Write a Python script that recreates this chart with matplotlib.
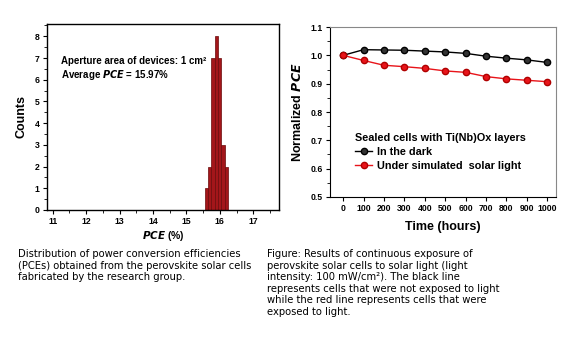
import numpy as np
import matplotlib.pyplot as plt

plt.rcParams['font.family'] = ['Liberation Sans', 'DejaVu Sans']

# histogram data
pce_centers = [15.6, 15.7, 15.8, 15.9, 16.0, 16.1, 16.2]
counts = [1, 2, 7, 8, 7, 3, 2]

# stability data
hours = [0, 100, 200, 300, 400, 500, 600, 700, 800, 900, 1000]
dark = [1.000, 1.020, 1.019, 1.018, 1.015, 1.012, 1.007, 0.997, 0.990, 0.984, 0.975]
light = [1.000, 0.982, 0.965, 0.960, 0.954, 0.945, 0.940, 0.925, 0.917, 0.912, 0.907]

fig = plt.figure(figsize=(5.77, 3.42), dpi=100)

# left panel
ax1 = fig.add_axes([0.081, 0.386, 0.403, 0.544])
ax1.bar(pce_centers, counts, width=0.1, color='#a3161a', edgecolor='#6a0a0a', linewidth=0.5)
ax1.set_xlim(10.82, 17.78)
ax1.set_ylim(0, 8.57)
ax1.set_xticks(range(11, 18))
ax1.set_xticks(np.arange(11.5, 17.6, 1), minor=True)
ax1.set_yticks(range(0, 9))
ax1.set_yticks(np.arange(0.5, 8.6, 1), minor=True)
ax1.tick_params(labelsize=6.2, width=0.8, length=3, pad=2)
ax1.tick_params(which='minor', length=2, width=0.6)
for lab in ax1.get_xticklabels() + ax1.get_yticklabels():
    lab.set_fontweight('bold')
ax1.set_ylabel('Counts', fontsize=9, fontweight='bold', labelpad=5)
ax1.set_xlabel('$\\mathbfit{PCE}$ (%)', fontsize=7.5, fontweight='bold', labelpad=2)
ax1.text(0.06, 0.80, 'Aperture area of devices: 1 cm\u00b2', transform=ax1.transAxes,
         fontsize=7, fontweight='bold', va='center')
ax1.text(0.06, 0.725, 'Average $\\mathbfit{PCE}$ = 15.97%', transform=ax1.transAxes,
         fontsize=7, fontweight='bold', va='center')
for sp in ax1.spines.values():
    sp.set_linewidth(1.0)

# right panel
ax2 = fig.add_axes([0.572, 0.424, 0.392, 0.497])
ax2.plot(hours, dark, '-o', color='black', markersize=4.5, markerfacecolor='#333333',
         markeredgecolor='black', linewidth=1.0, label='In the dark')
ax2.plot(hours, light, '-o', color='#e8141a', markersize=4.5, markerfacecolor='#e8141a',
         markeredgecolor='#b00000', linewidth=1.0, label='Under simulated  solar light')
ax2.set_xlim(-64, 1044)
ax2.set_ylim(0.5, 1.1)
ax2.set_xticks(hours)
ax2.set_yticks(np.arange(0.5, 1.11, 0.1))
ax2.set_yticks(np.arange(0.55, 1.1, 0.1), minor=True)
ax2.tick_params(labelsize=6.2, width=0.8, length=3, pad=2)
ax2.tick_params(which='minor', length=2, width=0.6)
for lab in ax2.get_xticklabels() + ax2.get_yticklabels():
    lab.set_fontweight('bold')
ax2.set_ylabel('Normalized $\\mathbfit{PCE}$', fontsize=9, fontweight='bold', labelpad=5)
ax2.set_xlabel('Time (hours)', fontsize=9, fontweight='bold', labelpad=6)
ax2.spines['top'].set_color('#888888')
ax2.spines['right'].set_color('#888888')
leg = ax2.legend(loc='lower left', bbox_to_anchor=(0.11, 0.155), frameon=False,
                 title='Sealed cells with Ti(Nb)Ox layers', fontsize=7.8,
                 title_fontproperties={'weight': 'bold', 'size': 7.8},
                 handlelength=1.6, handletextpad=0.4, labelspacing=0.35,
                 borderpad=0, borderaxespad=0)
leg._legend_box.align = 'left'
for t in leg.get_texts():
    t.set_fontweight('bold')

# captions
fig.text(0.032, 0.272,
         'Distribution of power conversion efficiencies\n'
         '(PCEs) obtained from the perovskite solar cells\n'
         'fabricated by the research group.',
         fontsize=7.2, family='DejaVu Sans', va='top', linespacing=1.2)
fig.text(0.463, 0.272,
         'Figure: Results of continuous exposure of\n'
         'perovskite solar cells to solar light (light\n'
         'intensity: 100 mW/cm\u00b2). The black line\n'
         'represents cells that were not exposed to light\n'
         'while the red line represents cells that were\n'
         'exposed to light.',
         fontsize=7.2, family='DejaVu Sans', va='top', linespacing=1.2)

fig.savefig('out.png', dpi=100)
